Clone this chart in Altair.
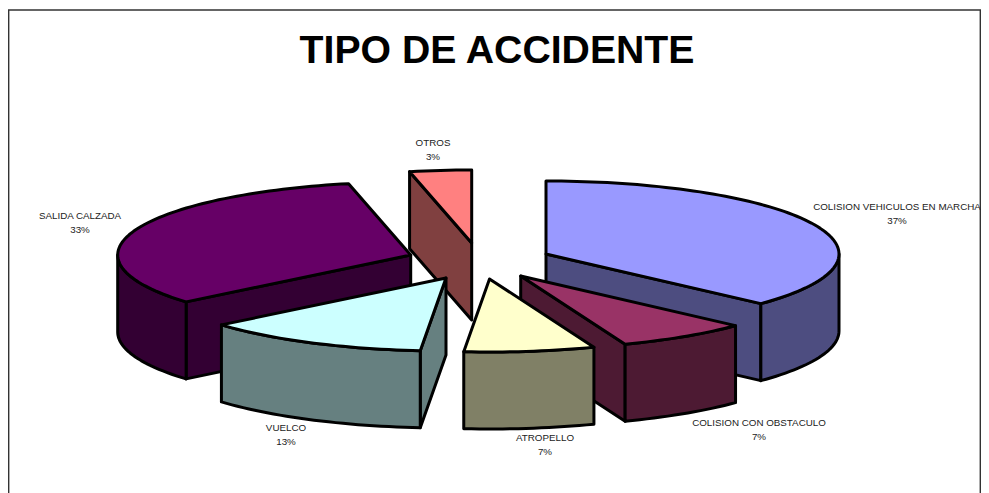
import math
import altair as alt

# ---- chart values -------------------------------------------------------
categories = ["COLISION VEHICULOS EN MARCHA", "COLISION CON OBSTACULO", "ATROPELLO",
              "VUELCO", "SALIDA CALZADA", "OTROS"]
shares = [36.9, 7.3, 7.2, 12.5, 32.7, 3.4]
percent_labels = ["37%", "7%", "7%", "13%", "33%", "3%"]
top_colors = ["#9999FF", "#993366", "#FFFFCC", "#CCFFFF", "#660066", "#FF8080"]
side_colors = ["#4D4D80", "#4D1A33", "#808066", "#668080", "#330033", "#804040"]

# ---- layout of the exploded 3-D pie (page pixels minus the 8px margin) --
W, H = 973, 485
RX, RY, DEPTH = 293, 73, 77
apex = {0: (538, 246), 1: (512.7, 268), 2: (481.5, 271),
        3: (438, 270), 4: (402.7, 247), 5: (463.7, 235)}
label_pos = {0: (889, 199), 1: (751, 415), 2: (537, 430),
             3: (278, 420), 4: (72, 208), 5: (425, 135)}
draw_order = [5, 4, 0, 1, 3, 2]


def rim(c, a):
    return (c[0] + RX * math.sin(a), c[1] - RY * math.cos(a))


def arc(c, a0, a1):
    n = max(2, int(abs(a1 - a0) / math.radians(1.5)))
    return [rim(c, a0 + (a1 - a0) * i / n) for i in range(n + 1)]


def feature(points, color):
    ring = [list(p) for p in points] + [list(points[0])]
    return {"type": "Feature", "properties": {"fill": color},
            "geometry": {"type": "Polygon", "coordinates": [ring]}}


def down(points):
    return [(x, y + DEPTH) for x, y in points]


total = sum(shares)
starts, acc = [], 0.0
for s in shares:
    starts.append(acc)
    acc += s

features = []
for i in draw_order:
    a0 = 2 * math.pi * starts[i] / total
    a1 = 2 * math.pi * (starts[i] + shares[i]) / total
    c = apex[i]
    # radial faces turned towards the viewer
    if math.sin(a0) < -1e-6:
        p = rim(c, a0)
        features.append(feature([c, p, (p[0], p[1] + DEPTH), (c[0], c[1] + DEPTH)], side_colors[i]))
    if math.sin(a1) > 1e-6:
        p = rim(c, a1)
        features.append(feature([c, p, (p[0], p[1] + DEPTH), (c[0], c[1] + DEPTH)], side_colors[i]))
    # outer wall: the part of the rim in the front half
    lo, hi = max(a0, math.pi / 2), min(a1, 3 * math.pi / 2)
    if hi > lo:
        top_edge = arc(c, lo, hi)
        features.append(feature(top_edge + down(top_edge)[::-1], side_colors[i]))
    # top
    features.append(feature([c] + arc(c, a0, a1), top_colors[i]))

pie = (
    alt.Chart(alt.Data(values=features))
    .mark_geoshape(stroke="black", strokeWidth=3, strokeJoin="round")
    .encode(color=alt.Color("properties.fill:N", scale=None))
    .project(type="identity", scale=1, translate=[0, 0])
)

frame = (
    alt.Chart(alt.Data(values=[{"f": 1}]))
    .mark_rect(fill="white", stroke="#333333", strokeWidth=1.4)
    .encode(x=alt.value(0.7), x2=alt.value(972.3), y=alt.value(2), y2=alt.value(520))
)

layers = [frame, pie]
for i, name in enumerate(categories):
    layers.append(
        alt.Chart(alt.Data(values=[{"label": name + "\n" + percent_labels[i]}]))
        .mark_text(x=label_pos[i][0], y=label_pos[i][1], align="center", baseline="middle",
                   font="Liberation Sans", fontSize=9.8, color="#222222",
                   lineBreak="\n", lineHeight=14)
        .encode(text="label:N")
    )

chart = (
    alt.layer(*layers)
    .properties(
        width=W, height=H, padding=0,
        autosize=alt.AutoSizeParams(type="none"),
        title=alt.TitleParams("TIPO DE ACCIDENTE", font="Liberation Sans", fontSize=39.2,
                              fontWeight="bold", color="black", anchor="middle",
                              baseline="middle", offset=-82, dx=2.5),
    )
    .configure_view(stroke=None)
)

chart.save("out.html", embed_options={"renderer": "svg", "actions": False})
